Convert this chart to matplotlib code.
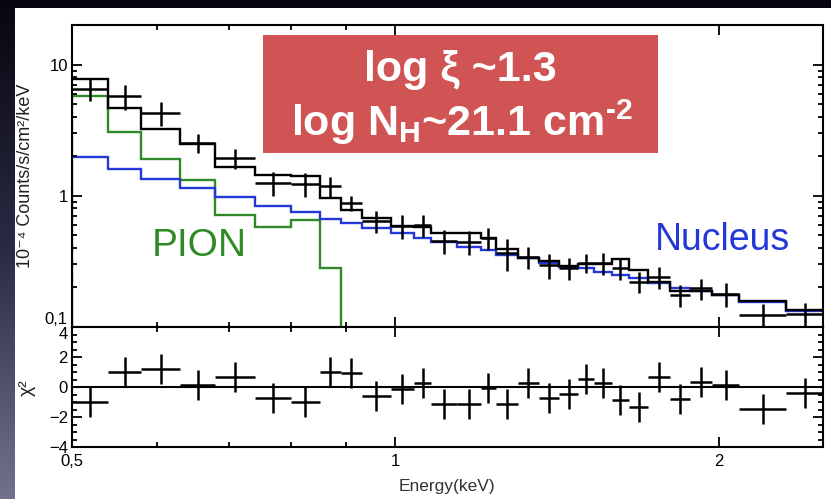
import numpy as np
import matplotlib.pyplot as plt
from matplotlib.patches import Rectangle
from matplotlib.colors import LinearSegmentedColormap
from matplotlib.ticker import LogLocator, MultipleLocator, NullFormatter

plt.rcParams['font.family'] = ['Liberation Sans', 'DejaVu Sans']
plt.rcParams['mathtext.fontset'] = 'custom'
plt.rcParams['mathtext.rm'] = 'Liberation Sans:bold'
plt.rcParams['mathtext.bf'] = 'Liberation Sans:bold'
plt.rcParams['mathtext.it'] = 'Liberation Sans:bold'

# energy bins (keV)
edges = np.array([0.50, 0.54, 0.58, 0.63, 0.68, 0.74, 0.80, 0.85, 0.89, 0.93,
                  0.99, 1.04, 1.08, 1.14, 1.20, 1.24, 1.30, 1.36, 1.42, 1.48,
                  1.53, 1.59, 1.65, 1.72, 1.80, 1.88, 1.97, 2.09, 2.31, 2.50])

# data, 10^-4 counts/s/cm2/keV
counts = [6.56, 5.73, 4.28, 2.53, 1.94, 1.26, 1.23, 1.18, 0.88, 0.64,
          0.59, 0.60, 0.453, 0.448, 0.475, 0.365, 0.340, 0.297, 0.281, 0.310,
          0.306, 0.281, 0.222, 0.242, 0.175, 0.197, 0.179, 0.124, 0.126]
counts_err = [1.25, 1.2, 0.9, 0.43, 0.35, 0.27, 0.26, 0.2, 0.11, 0.12,
              0.125, 0.115, 0.095, 0.095, 0.09, 0.1, 0.065, 0.063, 0.054, 0.053,
              0.058, 0.054, 0.042, 0.046, 0.033, 0.037, 0.038, 0.027, 0.027]

# models
model_total = [7.82, 4.67, 3.25, 2.48, 1.67, 1.45, 1.42, 0.96, 0.78, 0.68,
               0.59, 0.58, 0.52, 0.52, 0.475, 0.39, 0.335, 0.32, 0.29, 0.30,
               0.30, 0.33, 0.27, 0.222, 0.189, 0.189, 0.175, 0.159, 0.135]
model_nucleus = [1.97, 1.61, 1.34, 1.145, 0.974, 0.83, 0.746, 0.667, 0.619, 0.567,
                 0.519, 0.475, 0.448, 0.41, 0.387, 0.355, 0.334, 0.306, 0.289, 0.281,
                 0.264, 0.249, 0.235, 0.217, 0.199, 0.188, 0.175, 0.155, 0.132]
model_pion = [5.73, 3.04, 1.92, 1.32, 0.716, 0.577, 0.656, 0.282]  # zero above 0.89 keV

# residuals
chi = [-0.98, 1.02, 1.2, 0.13, 0.69, -0.73, -0.98, 1.0, 0.93, -0.58,
       -0.13, 0.24, -1.13, -1.13, -0.09, -1.13, 0.24, -0.71, -0.47, 0.51,
       0.29, -0.87, -1.31, 0.64, -0.8, 0.31, 0.13, -1.47, -0.38]
chi_err = [1.0, 1.0, 1.0, 1.0, 1.0, 1.0, 1.0, 1.0, 1.0, 1.0,
           1.0, 1.0, 1.0, 1.0, 1.0, 1.0, 1.0, 1.0, 1.0, 1.0,
           1.0, 1.0, 1.0, 1.0, 1.0, 1.0, 1.0, 1.0, 1.0]

green = '#2f8a26'
blue = '#2438d8'
W, H = 831, 499

centers = np.sqrt(edges[:-1] * edges[1:])
xerr = [centers - edges[:-1], edges[1:] - centers]

fig = plt.figure(figsize=(W / 100, H / 100), dpi=100)

# dark slide background + white panel
bg = fig.add_axes([0, 0, 1, 1], zorder=-10)
cmap = LinearSegmentedColormap.from_list('bg', ['#07070f', '#2a2a45', '#72728c'])
bg.imshow(np.linspace(0, 1, 256)[:, None], aspect='auto', cmap=cmap,
          extent=[0, 1, 0, 1])
bg.axis('off')
fig.patches.append(Rectangle((15 / W, 0), 1, 1 - 8 / H, transform=fig.transFigure,
                             facecolor='white', edgecolor='none', zorder=-5))

ax1 = fig.add_axes([72 / W, 1 - 327 / H, 751 / W, 302 / H])
ax2 = fig.add_axes([72 / W, 1 - 447 / H, 751 / W, 120 / H], sharex=ax1)

ax1.stairs(model_pion, edges[:len(model_pion) + 1], baseline=1e-3, color=green, lw=1.7)
ax1.stairs(model_nucleus, edges, baseline=None, color=blue, lw=1.7)
ax1.stairs(model_total, edges, baseline=None, color='black', lw=1.7)
ax1.errorbar(centers, counts, xerr=xerr, yerr=counts_err, fmt='none',
             ecolor='black', elinewidth=1.8)

ax2.errorbar(centers, chi, xerr=xerr, yerr=chi_err, fmt='none',
             ecolor='black', elinewidth=1.8)
ax2.axhline(0, color='black', lw=1.5)

ax1.set_xscale('log')
ax1.set_yscale('log')
ax1.set_xlim(0.5, 2.5)
ax1.set_ylim(0.1, 20)
ax2.set_ylim(-4, 4)

ax1.set_xticks([0.5, 1, 2])
ax1.set_xticks([0.6, 0.7, 0.8, 0.9], minor=True)
ax1.xaxis.set_minor_formatter(NullFormatter())
ax2.set_xticklabels(['0,5', '1', '2'])
ax1.tick_params(labelbottom=False)

ax1.set_yticks([0.1, 1, 10])
ax1.set_yticklabels(['0,1', '1', '10'])
ax1.yaxis.set_minor_locator(LogLocator(subs=np.arange(2, 10)))
ax1.yaxis.set_minor_formatter(NullFormatter())
ax2.set_yticks([-4, -2, 0, 2, 4])
ax2.set_yticklabels(['\u22124', '\u22122', '0', '2', '4'])
ax2.yaxis.set_minor_locator(MultipleLocator(0.5))

for ax in (ax1, ax2):
    ax.tick_params(which='both', direction='in', top=True, right=True,
                   width=1.3, labelsize=12, pad=3)
    ax.tick_params(which='major', length=7)
    ax.tick_params(which='minor', length=3.5)
    for s in ax.spines.values():
        s.set_linewidth(1.5)
ax2.tick_params(axis='x', pad=5)

ax1.get_yticklabels()[0].set_va('bottom')
ax2.get_yticklabels()[4].set_va('top')

fig.text(26 / W, 1 - 176 / H, '10\u207b\u2074 Counts/s/cm\u00b2/keV', rotation=90,
         ha='center', va='center', fontsize=13, color='#222222')
fig.text(27 / W, 1 - 388 / H, '\u03c7\u00b2', rotation=90,
         ha='center', va='center', fontsize=14, color='#222222')
fig.text(447 / W, 1 - 487 / H, 'Energy(keV)', ha='center', va='center',
         fontsize=12.5, color='#333333')

# parameter box
fig.patches.append(Rectangle((263 / W, 1 - 153 / H), 395 / W, 118 / H,
                             transform=fig.transFigure, facecolor='#d05454',
                             edgecolor='none', zorder=5))
fig.text(460 / W, 1 - 70 / H, 'log \u03be ~1.3', ha='center', va='center',
         color='white', fontsize=31, fontweight='bold', zorder=6)
fig.text(462 / W, 1 - 122 / H, r'log N$_{\rm H}$~21.1 cm$^{\text{-2}}$', ha='center',
         va='center', color='white', fontsize=31, fontweight='bold', zorder=6)

fig.text(152 / W, 1 - 246 / H, 'PION', color=green, fontsize=28,
         ha='left', va='center')
fig.text(655 / W, 1 - 240 / H, 'Nucleus', color=blue, fontsize=27,
         ha='left', va='center')

fig.savefig('out.png', dpi=100)
